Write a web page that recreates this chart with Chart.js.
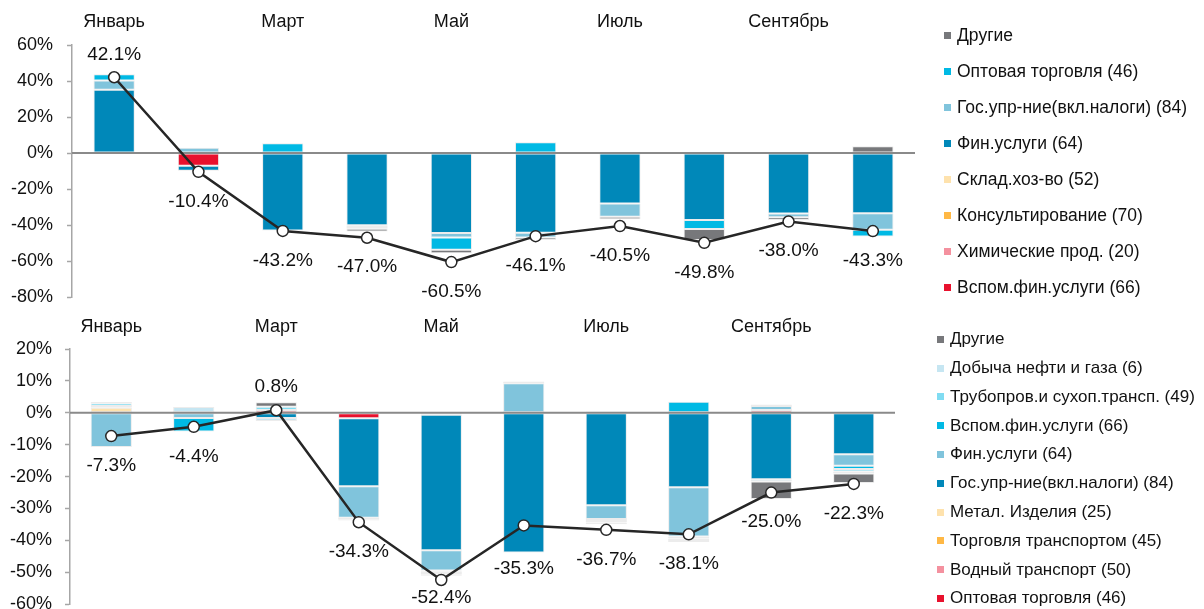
<!DOCTYPE html>
<html>
<head>
<meta charset="utf-8">
<script src="https://cdn.jsdelivr.net/npm/chart.js@4.4.1/dist/chart.umd.min.js"></script>
<style>
  html, body { margin: 0; padding: 0; background: #fff; }
  body { width: 1204px; height: 609px; overflow: hidden; position: relative;
         font-family: "Liberation Sans", Arial, sans-serif; color: #111; }
  canvas { position: absolute; left: 0; }
  #topChart { top: 0; }
  #bottomChart { top: 305px; }
  .legend { position: absolute; }
  .legend .item { position: absolute; left: 0; white-space: nowrap; display: flex; align-items: center; }
  .legend .box { display: inline-block; width: 7px; height: 7px; margin-right: 6px; flex: none; }
</style>
</head>
<body>
<canvas id="topChart" width="1204" height="322"></canvas>
<canvas id="bottomChart" width="1204" height="323"></canvas>
<div id="topLegend" class="legend"></div>
<div id="bottomLegend" class="legend"></div>
<script>
// Months on the category axis (every other one is labelled)
const months = ['Январь', 'Февраль', 'Март', 'Апрель', 'Май', 'Июнь', 'Июль', 'Август', 'Сентябрь', 'Октябрь'];

// ---- Upper panel: contributions, listed in stacking order (from the zero line outward)
const topNames = ['Вспом.фин.услуги (66)', 'Химические прод. (20)', 'Консультирование (70)', 'Склад.хоз-во (52)',
                  'Фин.услуги (64)', 'Гос.упр-ние(вкл.налоги) (84)', 'Оптовая торговля (46)', 'Другие'];
const topVspomFin = [0, -7.0, 0, 0, 0, 0, 0, 0, 0, 0];
const topKhim     = [0, 0, 0, 0, 0, 0, 0, 0, 0, 0];
const topKonsult  = [0, 0, 0, 0, 0, 0, 0, 0, 0, 0];
const topSklad    = [0, 0, 0, 0, 0, 0, 0, 0, 0, 0];
const topFin      = [35.2, -2.8, -43.0, -40.0, -44.3, -44.2, -28.0, -37.2, -33.6, -33.4];
const topGos      = [5.1, 3.0, 0, -1.0, -2.5, -2.6, -7.4, 0, -2.0, -9.2];
const topOpt      = [3.5, 0, 5.5, -1.0, -6.9, 6.0, 0, -4.9, 0, -3.7];
const topOther    = [0, 0, 0, -1.5, -1.9, -1.4, -1.3, -6.1, -1.6, 3.8];
const topTotal    = [42.1, -10.4, -43.2, -47.0, -60.5, -46.1, -40.5, -49.8, -38.0, -43.3];

// ---- Lower panel: contributions, listed in stacking order (from the zero line outward)
const bottomNames = ['Оптовая торговля (46)', 'Водный транспорт (50)', 'Торговля транспортом (45)', 'Метал. Изделия (25)',
                     'Гос.упр-ние(вкл.налоги) (84)', 'Фин.услуги (64)', 'Вспом.фин.услуги (66)',
                     'Трубопров.и сухоп.трансп. (49)', 'Добыча нефти и газа (6)', 'Другие'];
const botOpt      = [0, 0, 0.9, -1.7, -0.6, 0, 0, 0, 0.9, 0];
const botVodny    = [0, 0, 0, 0, 0, 0, 0.4, 0, 0, 0];
const botTorg     = [0, 0, 0, 0, 0, 0, 0, 0, 0, 0];
const botMetal    = [1.6, 0, 0, 0, 0, 0, 0, 0, 0, 0];
const botGos      = [0, 0, -1.6, -21.3, -42.5, -43.8, -29.0, -23.3, -20.8, -13.0];
const botFin      = [-10.7, -1.6, 0, -9.9, -6.3, 9.3, -4.3, -15.5, 1.2, -3.6];
const botVspomFin = [0.5, -4.3, 0, 0, -0.4, 0, -0.6, 3.5, 0, -1.0];
const botTruboprov= [0.9, 0, 1.0, -0.5, -0.4, 0, -0.5, -0.6, 0.5, -0.8];
const botDobycha  = [0, 1.8, -1.0, -0.4, -0.4, 0, -0.5, -0.5, -0.7, -0.6];
const botOther    = [0.4, 0, 1.4, 0, -0.5, 0.5, 0, -0.6, -5.5, -3.0];
const bottomTotal = [-7.3, -4.4, 0.8, -34.3, -52.4, -35.3, -36.7, -38.1, -25.0, -22.3];

// Colours for the stack segments, same order as the name lists
const topColors = ['#e8112d', '#f4919f', '#ffb845', '#fee2ad', '#0088b9', '#80c4dc', '#00b9e4', '#77787b'];
const bottomColors = ['#e8112d', '#f4919f', '#ffb845', '#fee2ad', '#0088b9', '#80c4dc', '#00b9e4',
                      '#80dcf2', '#c6e6f2', '#77787b'];

Chart.defaults.font.family = '"Liberation Sans", Arial, sans-serif';
Chart.defaults.color = '#111';

// Horizontal line at 0%, painted over the bars but under the total line
const zeroLine = {
  id: 'zeroLine',
  beforeDatasetDraw(chart, args) {
    if (args.meta.type !== 'line') return;
    const ctx = chart.ctx;
    const y = chart.scales.y.getPixelForValue(0);
    ctx.save();
    ctx.strokeStyle = '#8a8a8a';
    ctx.lineWidth = 2;
    ctx.beginPath();
    ctx.moveTo(chart.chartArea.left, y);
    ctx.lineTo(chart.chartArea.right, y);
    ctx.stroke();
    ctx.restore();
  }
};

// Percentage labels for the total line: below negative points, above positive ones,
// kept clear of the bar stack at the same month
const totalLabels = {
  id: 'totalLabels',
  afterDatasetsDraw(chart, args, opts) {
    const ctx = chart.ctx;
    const barMetas = chart.getSortedVisibleDatasetMetas().filter(m => m.type === 'bar');
    ctx.save();
    ctx.font = '19px "Liberation Sans", Arial, sans-serif';
    ctx.fillStyle = '#111';
    ctx.textAlign = 'center';
    ctx.textBaseline = 'middle';
    chart.data.datasets.forEach((ds, i) => {
      if (ds.type !== 'line') return;
      chart.getDatasetMeta(i).data.forEach((pt, j) => {
        const v = ds.data[j];
        let lo = -Infinity, hi = Infinity;
        barMetas.forEach(m => {
          const el = m.data[j];
          if (!el) return;
          lo = Math.max(lo, el.y, el.base);
          hi = Math.min(hi, el.y, el.base);
        });
        let y;
        if (v >= 0) {
          y = Math.min(pt.y - 22, hi - 16);
        } else {
          y = Math.max(pt.y + 29.5, lo + 16);
          if (opts.maxY) y = Math.min(y, opts.maxY);
        }
        ctx.fillText(v.toFixed(1) + '%', pt.x, y);
      });
    });
    ctx.restore();
  }
};

function buildChart(canvasId, names, series, colors, total, cfg) {
  const datasets = series.map((data, i) => ({
    type: 'bar',
    label: names[i],
    data: data,
    backgroundColor: colors[i],
    borderColor: '#ececec',
    borderWidth: 1,
    borderSkipped: false,
    barPercentage: cfg.barPct,
    categoryPercentage: 1,
    order: 1
  }));
  datasets.push({
    type: 'line',
    label: 'Итого',
    data: total,
    stack: 'total',
    borderColor: '#262626',
    borderWidth: 2.5,
    pointRadius: 5.5,
    pointHoverRadius: 5.5,
    pointBackgroundColor: '#ffffff',
    pointBorderColor: '#262626',
    pointBorderWidth: 1.5,
    tension: 0,
    order: 0
  });
  return new Chart(document.getElementById(canvasId), {
    data: { labels: months, datasets: datasets },
    plugins: [zeroLine, totalLabels],
    options: {
      responsive: false,
      animation: false,
      devicePixelRatio: 1,
      layout: { padding: { top: 0, right: cfg.padRight, bottom: cfg.padBottom, left: 0 } },
      plugins: {
        legend: { display: false },
        tooltip: { enabled: false },
        totalLabels: { maxY: cfg.labelMaxY }
      },
      scales: {
        x: {
          position: 'top',
          stacked: true,
          grid: { display: false, drawTicks: false },
          border: { display: false },
          ticks: {
            autoSkip: false,
            maxRotation: 0,
            padding: cfg.xPad,
            font: { size: 18 },
            color: '#111',
            callback: (v, i) => (i % 2 === 0 ? months[i] : '')
          },
          afterFit: s => { s.height = cfg.xHeight; }
        },
        y: {
          stacked: true,
          min: cfg.min,
          max: cfg.max,
          ticks: {
            stepSize: cfg.step,
            padding: cfg.yPad,
            font: { size: 18 },
            color: '#111',
            callback: v => v + '%'
          },
          grid: { display: true, drawOnChartArea: false, drawTicks: true, tickLength: 5,
                  tickColor: '#a6a6a6', tickWidth: 1.5 },
          border: { display: true, color: '#a6a6a6', width: 1.5 },
          afterFit: s => { s.width = cfg.yWidth; }
        }
      }
    }
  });
}

const topChart = buildChart('topChart', topNames,
  [topVspomFin, topKhim, topKonsult, topSklad, topFin, topGos, topOpt, topOther],
  topColors, topTotal,
  { barPct: 0.49, padRight: 289, padBottom: 8, xHeight: 45, xPad: 12, min: -80, max: 60, step: 20,
    yPad: 14, yWidth: 72, labelMaxY: null });

const bottomChart = buildChart('bottomChart', bottomNames,
  [botOpt, botVodny, botTorg, botMetal, botGos, botFin, botVspomFin, botTruboprov, botDobycha, botOther],
  bottomColors, bottomTotal,
  { barPct: 0.5, padRight: 309, padBottom: 7, xHeight: 44, xPad: 11.5, min: -60, max: 20, step: 10,
    yPad: 13, yWidth: 70, labelMaxY: 293 });

// Legends: bar series listed from the outermost segment down
function buildLegend(el, chart, left, top, spacing, fontSize) {
  el.style.left = left + 'px';
  el.style.top = top + 'px';
  const items = chart.data.datasets.filter(d => d.type === 'bar').slice().reverse();
  items.forEach((d, i) => {
    const row = document.createElement('div');
    row.className = 'item';
    row.style.top = (i * spacing) + 'px';
    row.style.height = spacing + 'px';
    row.style.fontSize = fontSize + 'px';
    const box = document.createElement('span');
    box.className = 'box';
    box.style.background = d.backgroundColor;
    const txt = document.createElement('span');
    txt.textContent = d.label;
    row.appendChild(box);
    row.appendChild(txt);
    el.appendChild(row);
  });
}
buildLegend(document.getElementById('topLegend'), topChart, 944, 17, 36.1, 17.5);
buildLegend(document.getElementById('bottomLegend'), bottomChart, 937, 324.9, 28.8, 17);
</script>
</body>
</html>
